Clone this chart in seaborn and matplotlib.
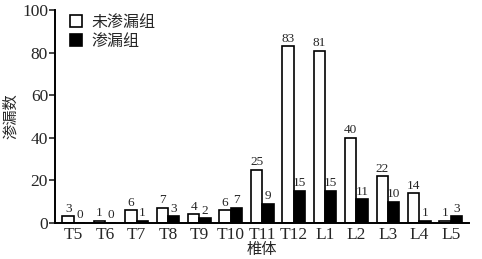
import numpy as np
import pandas as pd
import matplotlib
matplotlib.use("Agg")
import matplotlib.pyplot as plt
import seaborn as sns

vertebrae = ["T5", "T6", "T7", "T8", "T9", "T10", "T11", "T12", "L1", "L2", "L3", "L4", "L5"]
no_leak = [3, 1, 6, 7, 4, 6, 25, 83, 81, 40, 22, 14, 1]
leak = [0, 0, 1, 3, 2, 7, 9, 15, 15, 11, 10, 1, 3]
groups = ["未渗漏组", "渗漏组"]

df = pd.DataFrame({
    "椎体": vertebrae * 2,
    "渗漏数": no_leak + leak,
    "组": [groups[0]] * len(vertebrae) + [groups[1]] * len(vertebrae),
})

sns.set_style("ticks")
plt.rcParams['font.family'] = ['Liberation Serif', 'Noto Sans CJK SC', 'DejaVu Sans']

fig = plt.figure(figsize=(4.82, 2.59), dpi=100)
ax = fig.add_axes([0.114, 0.14, 0.86, 0.82])

sns.barplot(data=df, x="椎体", y="渗漏数", hue="组", hue_order=groups,
            palette=["white", "black"], edgecolor="black", linewidth=1.2,
            width=0.72, gap=0, ax=ax, legend=True)

for cont in ax.containers:
    ax.bar_label(cont, fontsize=9.5, padding=1)

ax.set_ylim(0, 100)
ax.set_yticks([0, 20, 40, 60, 80, 100])
ax.set_xlim(-0.6, 12.6)
ax.tick_params(axis="x", length=0, labelsize=12.5, pad=3)
ax.tick_params(axis="y", length=4, width=1.2, labelsize=12.5, pad=1, direction="out")
sns.despine(ax=ax)
for s in ["left", "bottom"]:
    ax.spines[s].set_linewidth(1.4)
    ax.spines[s].set_color("black")

ax.set_xlabel("椎体", fontsize=11, labelpad=0)
ax.set_ylabel("渗漏数", fontsize=11)
ax.yaxis.set_label_coords(-0.09, 0.5)

leg = ax.legend(loc="upper left", frameon=False, fontsize=11.5, handlelength=0.75,
                handleheight=0.75, handletextpad=0.6, labelspacing=0.2,
                borderaxespad=0.0, bbox_to_anchor=(0.02, 1.01))

fig.savefig("out.png", dpi=100)
